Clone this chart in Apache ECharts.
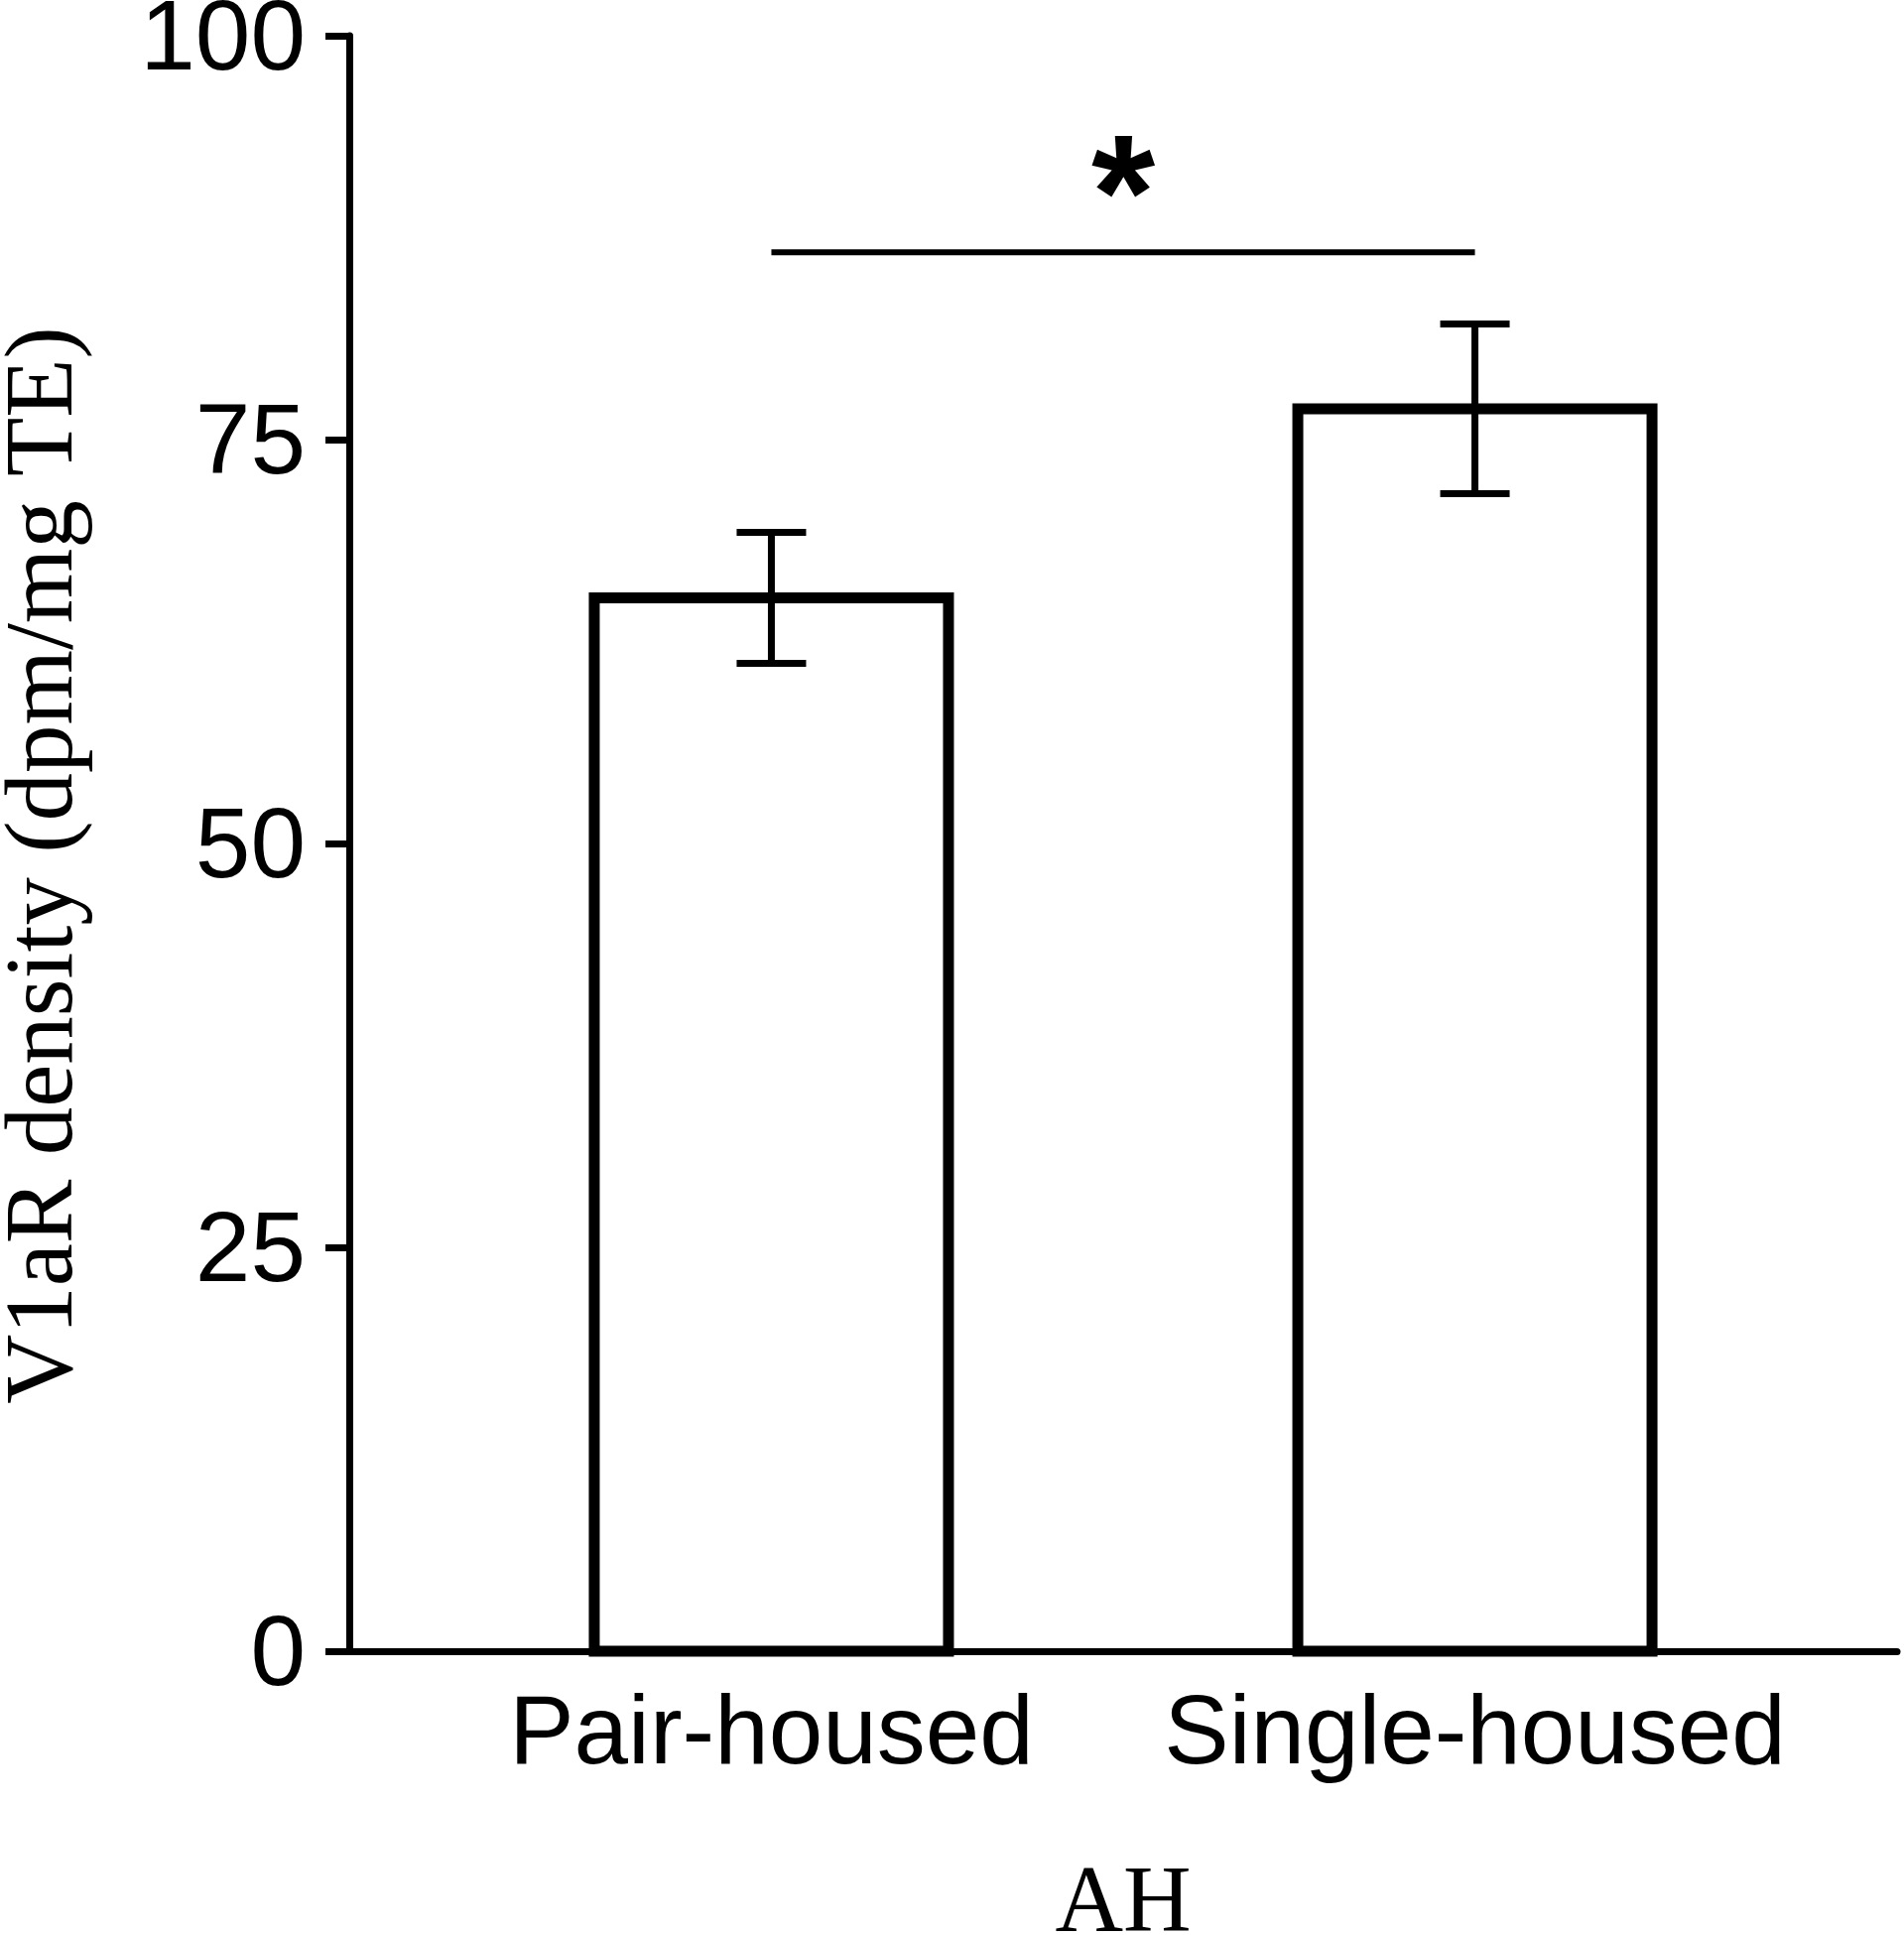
<!DOCTYPE html>
<html>
<head>
<meta charset="utf-8">
<script src="https://cdn.jsdelivr.net/npm/echarts@6/dist/echarts.min.js"></script>
<style>
html,body{margin:0;padding:0;background:#fff;}
#chart{width:1919px;height:1950px;}
</style>
</head>
<body>
<div id="chart"></div>
<script>
// ---- data ----
const categories = ['Pair-housed', 'Single-housed'];
const means = [65.2, 76.9];
const sems = [4.05, 5.25];
const yTicks = [0, 25, 50, 75, 100];
const sigFrom = 0;          // category index
const sigTo = 1;            // category index
const sigValue = 86.6;      // y value of significance line
const sigLabel = '*';
const xTitle = 'AH';
const yTitle = 'V1aR density (dpm/mg TE)';

// ---- build ----
const catPos = categories.map((c, i) => i + 1);
const barData = categories.map((c, i) => [catPos[i], means[i]]);
const errData = categories.map((c, i) => [catPos[i], means[i], sems[i]]);
const sigData = [[catPos[sigFrom], catPos[sigTo], sigValue]];

const SANS = 'Liberation Sans, Arial, sans-serif';
const SERIF = 'Liberation Serif, Times New Roman, serif';

const chart = echarts.init(document.getElementById('chart'), null, {renderer: 'canvas'});
chart.setOption({
  backgroundColor: '#ffffff',
  animation: false,
  grid: {left: 352, right: 7, top: 36, bottom: 286, containLabel: false, outerBoundsMode: 'none'},
  xAxis: {
    type: 'value',
    min: 0.4,
    max: 2.6,
    name: xTitle,
    nameLocation: 'middle',
    nameGap: 210,
    nameTextStyle: {fontFamily: SERIF, fontSize: 95, color: '#000'},
    axisLine: {show: true, lineStyle: {color: '#000', width: 7}},
    axisTick: {show: false},
    splitLine: {show: false},
    axisLabel: {
      customValues: catPos,
      formatter: v => categories[Math.round(v) - 1],
      fontFamily: SANS, fontSize: 98, color: '#000', margin: 37
    }
  },
  yAxis: {
    type: 'value',
    min: yTicks[0],
    max: yTicks[yTicks.length - 1],
    interval: yTicks[1] - yTicks[0],
    name: yTitle,
    nameLocation: 'middle',
    nameGap: 257,
    nameRotate: 90,
    nameTextStyle: {fontFamily: SERIF, fontSize: 97, color: '#000', padding: [0, 44, 0, 0]},
    axisLine: {show: true, lineStyle: {color: '#000', width: 7}},
    axisTick: {show: true, length: 24, lineStyle: {color: '#000', width: 7}},
    splitLine: {show: false},
    axisLabel: {
      margin: 44,
      formatter: v => '{t|' + v + '}',
      rich: {t: {fontFamily: SANS, fontSize: 100, color: '#000', padding: [12, 0, 0, 0]}}
    }
  },
  series: [
    {
      type: 'custom',
      data: barData,
      z: 2,
      renderItem: function (params, api) {
        const x = api.value(0), m = api.value(1);
        const top = api.coord([x, m]);
        const base = api.coord([x, 0]);
        const w = 357;
        return {
          type: 'rect',
          shape: {x: top[0] - w / 2, y: top[1], width: w, height: base[1] - top[1]},
          style: {fill: '#ffffff', stroke: '#000', lineWidth: 11}
        };
      }
    },
    {
      type: 'custom',
      data: errData,
      z: 3,
      renderItem: function (params, api) {
        const x = api.value(0), m = api.value(1), e = api.value(2);
        const hi = api.coord([x, m + e]);
        const lo = api.coord([x, m - e]);
        const hw = 35;
        const st = {stroke: '#000', lineWidth: 7};
        return {
          type: 'group',
          children: [
            {type: 'line', shape: {x1: hi[0], y1: hi[1], x2: lo[0], y2: lo[1]}, style: st},
            {type: 'line', shape: {x1: hi[0] - hw, y1: hi[1], x2: hi[0] + hw, y2: hi[1]}, style: st},
            {type: 'line', shape: {x1: lo[0] - hw, y1: lo[1], x2: lo[0] + hw, y2: lo[1]}, style: st}
          ]
        };
      }
    },
    {
      type: 'custom',
      data: sigData,
      z: 3,
      renderItem: function (params, api) {
        const a = api.coord([api.value(0), api.value(2)]);
        const b = api.coord([api.value(1), api.value(2)]);
        return {
          type: 'group',
          children: [
            {type: 'line', shape: {x1: a[0], y1: a[1], x2: b[0], y2: b[1]}, style: {stroke: '#000', lineWidth: 6}},
            {type: 'text', x: (a[0] + b[0]) / 2, y: a[1] - 49,
             style: {text: sigLabel, fontFamily: SANS, fontWeight: 'bold', fontSize: 165, fill: '#000', align: 'center', verticalAlign: 'middle'}}
          ]
        };
      }
    }
  ]
});
</script>
</body>
</html>
